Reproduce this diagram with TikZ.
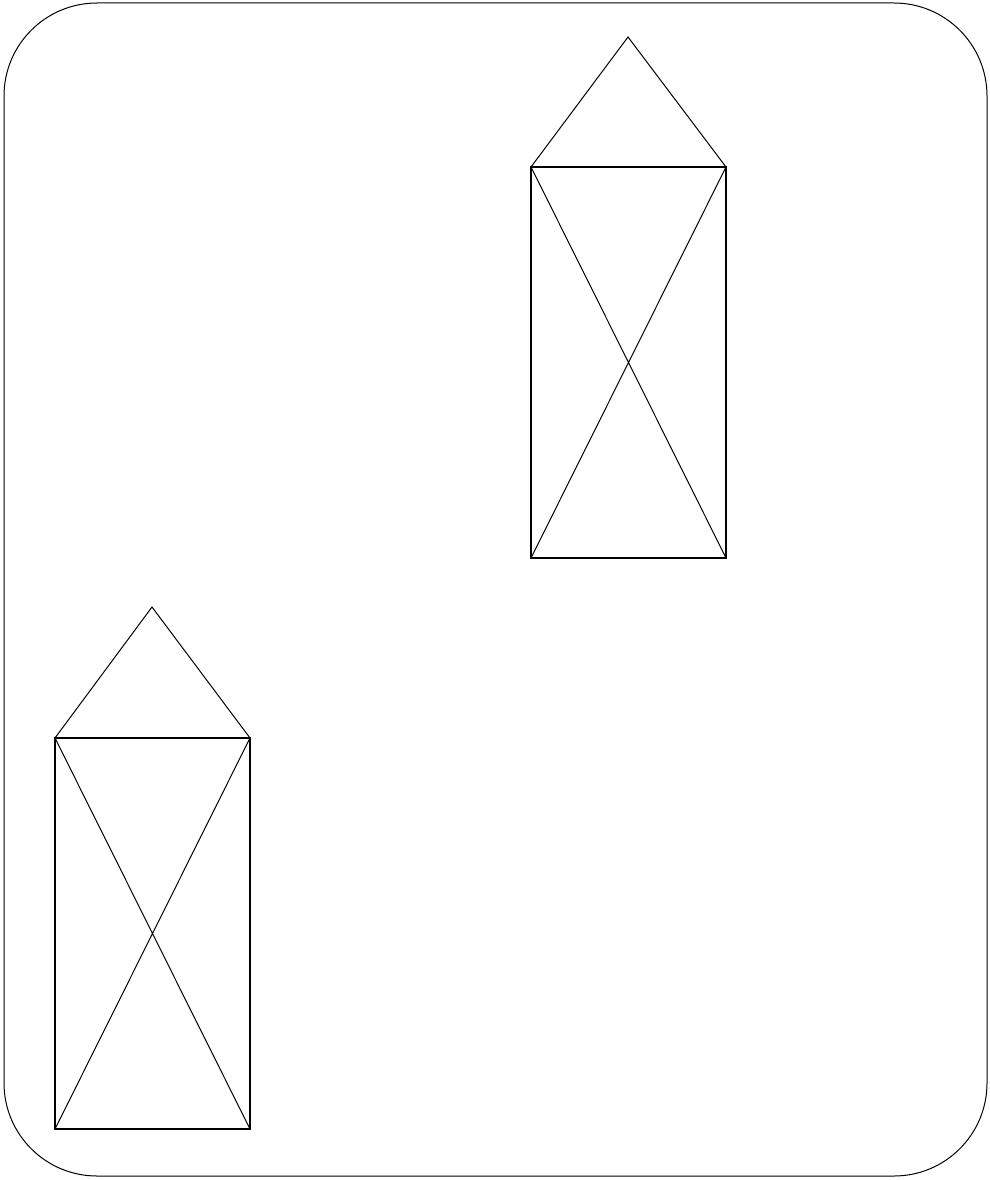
\documentclass[tikz,border=0pt]{standalone}
\begin{document}
\begin{tikzpicture}[x=1pt,y=-1pt,
  frame/.style={draw=black,line width=1pt,rounded corners=93pt},
  body/.style={draw=black,line width=1.2pt},
  thin/.style={draw=black,line width=1pt,line join=miter}]
\useasboundingbox (0,0) rectangle (989,1180);
\draw[frame] (4,3) rectangle (987,1176);
% house 1
\coordinate (a1) at (531,167);
\coordinate (b1) at (726,167);
\coordinate (c1) at (726,558);
\coordinate (d1) at (531,558);
\coordinate (r1) at (628,37);
\draw[body] (a1) rectangle (c1);
\draw[thin] (a1) -- (c1) (b1) -- (d1);
\draw[thin] (a1) -- (r1) -- (b1);
% house 2
\coordinate (a2) at (55,738);
\coordinate (b2) at (250,738);
\coordinate (c2) at (250,1129);
\coordinate (d2) at (55,1129);
\coordinate (r2) at (152,607);
\draw[body] (a2) rectangle (c2);
\draw[thin] (a2) -- (c2) (b2) -- (d2);
\draw[thin] (a2) -- (r2) -- (b2);
\end{tikzpicture}
\end{document}
